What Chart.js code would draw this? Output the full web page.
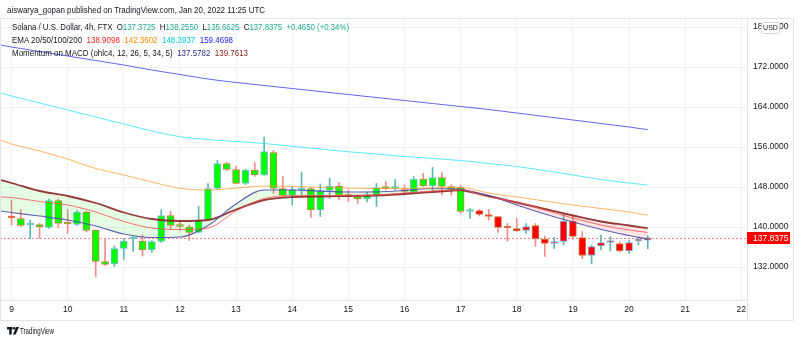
<!DOCTYPE html>
<html><head><meta charset="utf-8">
<script src="https://cdn.jsdelivr.net/npm/chart.js@4.4.0/dist/chart.umd.min.js"></script>
<style>
html,body{margin:0;padding:0;background:#fff;width:800px;height:343px;overflow:hidden;}
#wrap{position:relative;width:800px;height:343px;}
canvas{position:absolute;left:0;top:0;}
.t{position:absolute;white-space:nowrap;font-family:'Liberation Sans',Arial,sans-serif;transform-origin:0 50%;line-height:1;color:#131722;}
.g{color:#22ab94}.e1{color:#ff1f1f}.e2{color:#ff8c00}.e3{color:#00d0e6}.e4{color:#1f1fff}.m1{color:#2e2e8c}.m2{color:#8c1c1c}
</style></head><body>
<div id="wrap">
<canvas id="c" width="800" height="343"></canvas>
<div class="t" data-w="258" style="left:7px;top:5px;font-size:9.5px;">aiswarya_gopan published on TradingView.com, Jan 20, 2022 11:25 UTC</div>
<div class="t" data-w="337" style="left:12px;top:22px;font-size:9.5px;">Solana / U.S. Dollar, 4h, FTX&nbsp; O<span class="g">137.3725</span>&nbsp; H<span class="g">138.2550</span>&nbsp; L<span class="g">135.6625</span>&nbsp; C<span class="g">137.8375</span>&nbsp; <span class="g">+0.4650 (+0.34%)</span></div>
<div class="t" data-w="221" style="left:12px;top:35.4px;font-size:9.5px;">EMA 20/50/100/200&nbsp; <span class="e1">138.9098</span>&nbsp; <span class="e2">142.3602</span>&nbsp; <span class="e3">148.3937</span>&nbsp; <span class="e4">159.4698</span></div>
<div class="t" data-w="236" style="left:12px;top:47.7px;font-size:9.5px;">Momentum on MACD (ohlc4, 12, 26, 5, 34, 5)&nbsp; <span class="m1">137.5782</span>&nbsp; <span class="m2">139.7613</span></div>
<div class="t" data-w="34" style="left:20px;top:327px;font-size:8.5px;">TradingView</div>
</div>
<script>
// ---- data ----
const days = [9,10,11,12,13,14,15,16,17,18,19,20,21,22];
const dayLabels = ['9','10','11','12','13','14','15','16','17','18','19','20','21','22'];
const priceTicks = [132,140,148,156,164,172,180];
const firstDay = 9, barHours = 4;
const opens = [141.9,141.7,140.4,140.5,139.9,145.3,140.8,140.5,143.0,139.4,133.1,132.6,135.7,137.6,137.2,135.4,137.1,142.3,140.3,140.0,138.9,141.4,147.7,152.7,151.5,148.7,151.4,150.4,154.9,147.7,146.3,147.4,147.7,143.4,147.3,148.2,146.3,146.1,145.6,146.4,147.9,147.7,147.5,146.9,149.6,148.2,149.9,148.1,147.9,143.1,143.3,142.5,142.1,139.9,139.7,139.3,140.3,137.6,136.7,137.1,141.2,137.9,134.3,136.2,136.9,136.7,135.2,137.2,137.3725];
const highs = [145.4,143.5,141.4,140.7,145.6,145.6,143.5,143.3,143.2,139.4,137.7,136.2,137.7,138.1,138.4,137.3,143.4,143.2,141.4,140.4,144.1,148.7,153.3,152.9,152.2,151.6,152.9,158.0,155.3,150.1,148.1,150.9,147.9,148.6,149.7,148.9,147.4,146.4,147.0,148.7,149.1,149.5,148.4,150.1,150.7,151.9,150.9,148.5,148.4,143.7,143.5,143.5,142.1,140.7,141.7,140.7,140.7,138.2,137.9,142.6,142.4,139.1,136.4,138.4,138.1,137.0,137.4,138.1,138.255];
const lows = [140.4,140.1,137.7,137.7,139.7,139.9,138.7,140.3,139.0,130.1,132.3,132.1,133.5,135.1,134.2,134.9,136.9,139.5,139.3,137.3,138.8,141.3,147.6,151.3,148.6,148.5,150.1,150.3,146.7,146.1,144.4,146.4,141.9,142.1,145.7,145.4,145.1,144.7,145.0,144.1,147.4,147.4,146.4,146.7,148.1,147.3,146.4,146.4,142.7,141.7,142.2,141.4,138.9,137.2,139.1,138.7,136.1,134.1,135.7,136.4,137.5,133.7,132.7,135.4,135.2,135.0,134.7,136.4,135.6625];
const closes = [141.8,140.3,140.6,140.0,145.3,140.7,140.6,143.0,139.3,133.1,132.5,135.7,137.2,137.8,135.4,137.1,142.3,140.3,140.1,138.9,141.4,147.7,152.7,151.5,148.7,151.4,150.4,155.1,147.7,146.3,147.5,147.7,143.4,147.3,148.2,146.3,146.1,145.6,146.4,147.9,147.7,147.9,147.1,149.6,148.2,149.9,148.1,147.5,143.1,143.3,142.5,142.1,139.9,139.8,139.2,140.1,137.6,136.7,137.1,141.2,138.1,134.3,136.1,136.9,136.9,135.2,136.9,137.3,137.8375];
// bar colouring state from the indicator: 1 = bullish (green), -1 = bearish (red)
const barState = [-1,1,1,1,1,1,1,1,1,1,1,1,1,1,1,1,1,1,1,1,1,1,1,1,1,1,1,1,1,1,1,1,1,1,1,1,1,1,1,1,1,1,1,1,1,1,1,1,1,1,-1,-1,-1,-1,-1,-1,-1,-1,-1,-1,-1,-1,-1,-1,-1,-1,-1,-1,-1];
const lastPrice = 137.8375;
const lineDays = [8.8,9,9.5,10,10.5,11,11.5,12,12.5,13,13.5,14,14.5,15,15.5,16,16.5,17,17.5,18,18.5,19,19.5,20,20.333];
const ema200 = [176.4,176.0,175.1,174.2,173.3,172.4,171.4,170.5,169.6,168.9,168.3,167.7,167.1,166.5,165.9,165.3,164.7,164.1,163.5,162.8,162.1,161.4,160.7,160.0,159.47];
const ema100 = [166.8,166.2,164.8,163.4,162.0,160.6,159.2,158.06,157.5,157.1,156.7,156.14,155.6,155.04,154.6,154.1,153.7,153.3,152.7,152.1,151.3,150.4,149.5,148.8,148.39];
const ema50 = [157.4,156.6,155.2,153.6,151.7,150.4,149.0,147.74,147.4,147.8,148.2,148.1,147.94,147.8,147.7,147.7,147.8,147.9,146.8,146.0,145.2,144.4,143.7,143.0,142.36];
const ema20 = [146.0,145.9,145.1,144.4,143.0,141.1,139.8,139.5,139.8,143.2,145.7,146.26,146.3,146.34,146.4,146.8,147.2,147.4,146.0,145.0,143.4,141.8,140.4,139.4,138.91];
const momA = [149.4,148.8,147.2,146.2,144.8,142.9,141.6,141.2,141.4,143.5,145.4,146.0,146.1,146.2,146.3,146.6,147.0,147.4,146.2,144.9,143.6,142.3,141.1,140.3,139.76];
const momB = [143.2,142.9,142.2,141.4,140.2,138.6,137.9,138.0,140.3,144.6,147.4,147.4,147.16,147.0,147.04,147.3,147.7,147.6,146.3,144.4,142.6,141.0,139.5,138.3,137.58];
const switchDay = 17;

// ---- build ----
const xs = opens.map((_, i) => firstDay + i * barHours / 24);
const isUp = i => closes[i] >= opens[i];
const pts = arr => lineDays.map((d, i) => ({x: d, y: arr[i]}));
const ptsRange = (arr, lo, hi) => lineDays.map((d, i) => ({x: d, y: arr[i]})).filter(p => p.x >= lo && p.x <= hi);
const lineDs = (data, color, w, extra) => Object.assign({type:'line', data, borderColor:color, borderWidth:w, pointRadius:0, cubicInterpolationMode:'monotone', fill:false, order:0}, extra||{});

const datasets = [
  {type:'bar', data: xs.map((x,i)=>({x, y:[lows[i], highs[i]]})), backgroundColor: xs.map((_,i)=> isUp(i) ? '#5cb8ad' : '#f28b8b'), barThickness:1, grouped:false, order:2, minBarLength:1},
  {type:'bar', data: xs.map((x,i)=>({x, y:[opens[i], closes[i]]})), backgroundColor: xs.map((_,i)=> barState[i] > 0 ? '#00ff00' : '#ff0000'), borderColor: xs.map((_,i)=> isUp(i) ? '#7fb9e6' : '#c9803f'), borderWidth:1, borderSkipped:false, barThickness:7, grouped:false, order:1, minBarLength:2},
  lineDs(pts(ema200), 'rgba(50,50,240,0.75)', 1),
  lineDs(pts(ema100), 'rgba(0,225,245,0.65)', 1),
  lineDs(pts(ema50), 'rgba(255,150,30,0.7)', 1),
  lineDs(pts(ema20), 'rgba(245,80,80,0.8)', 1),
  lineDs(ptsRange(momB, 0, switchDay), 'rgba(80,80,170,0.9)', 1.2),      // 6
  lineDs(ptsRange(momA, 0, switchDay), 'rgba(140,35,35,0.9)', 1.8, {fill:{target:6}, backgroundColor:'rgba(0,230,0,0.1)'}),
  lineDs(ptsRange(momB, switchDay, 99), 'rgba(80,80,170,0.9)', 1.2),     // 8
  lineDs(ptsRange(momA, switchDay, 99), 'rgba(140,35,35,0.9)', 1.8, {fill:{target:8}, backgroundColor:'rgba(255,0,0,0.1)'})
];

const decor = {
  id:'decor',
  beforeDatasetsDraw(chart){
    const {ctx, chartArea:a, scales:{y}} = chart;
    const py = Math.round(y.getPixelForValue(lastPrice)) + 0.5;
    ctx.save();
    ctx.strokeStyle = 'rgba(255,0,0,0.5)'; ctx.lineWidth = 1; ctx.setLineDash([2,2]);
    ctx.beginPath(); ctx.moveTo(a.left, py); ctx.lineTo(a.right, py); ctx.stroke();
    ctx.restore();
  },
  afterDraw(chart){
    const {ctx, chartArea:a, scales:{y}} = chart;
    ctx.save();
    // frame
    ctx.strokeStyle = '#e0e3eb'; ctx.lineWidth = 1;
    ctx.beginPath();
    ctx.moveTo(0, 18.5); ctx.lineTo(793.5, 18.5);
    ctx.moveTo(793.5, 18.5); ctx.lineTo(793.5, 320.5);
    ctx.moveTo(0, 320.5); ctx.lineTo(793.5, 320.5);
    ctx.moveTo(0.5, 18.5); ctx.lineTo(0.5, 320.5);
    ctx.moveTo(a.right + 0.5, 18.5); ctx.lineTo(a.right + 0.5, 320.5);
    ctx.stroke();
    // last price label
    const py = y.getPixelForValue(lastPrice);
    ctx.fillStyle = '#ff0000';
    ctx.fillRect(a.right, Math.round(py) - 6, 43, 12);
    ctx.fillStyle = '#ffffff';
    ctx.font = '8.5px "Liberation Sans", Arial, sans-serif';
    ctx.textBaseline = 'middle';
    ctx.fillText(lastPrice.toFixed(4), a.right + 6, Math.round(py) + 0.5);
    // USD box
    ctx.fillStyle = '#ffffff'; ctx.strokeStyle = '#d1d4dc';
    ctx.beginPath(); ctx.roundRect(761.5, 22.5, 18, 11, 2); ctx.fill(); ctx.stroke();
    ctx.fillStyle = '#131722'; ctx.font = '7px "Liberation Sans", Arial, sans-serif'; ctx.textAlign = 'center';
    ctx.fillText('USD', 770.5, 28.5);
    // logo mark
    ctx.fillStyle = '#131722';
    ctx.fillRect(7, 327, 5.5, 2.5);
    ctx.fillRect(9.2, 327, 2.5, 7.5);
    ctx.beginPath(); ctx.arc(14.2, 328.3, 1.3, 0, Math.PI*2); ctx.fill();
    ctx.beginPath(); ctx.moveTo(16.3, 327); ctx.lineTo(19, 327); ctx.lineTo(15.6, 334.5); ctx.lineTo(12.9, 334.5); ctx.closePath(); ctx.fill();
    ctx.restore();
  }
};

new Chart(document.getElementById('c'), {
  type:'bar',
  data:{datasets},
  options:{
    responsive:false, animation:false, devicePixelRatio:1,
    layout:{padding:{top:18, bottom:23, left:0, right:0}},
    plugins:{legend:{display:false}, tooltip:{enabled:false}},
    scales:{
      x:{type:'linear', min:8.795, max:22.101, offset:false,
        afterBuildTicks:s=>{s.ticks = days.map(v=>({value:v}));},
        afterFit:s=>{s.height = 20;},
        grid:{color:'#f0f2f6', drawTicks:false, offset:false},
        border:{color:'#e0e3eb'},
        ticks:{autoSkip:false, maxRotation:0, padding:5, color:'#131722', font:{size:8.5, family:'"Liberation Sans", Arial, sans-serif'}, callback:(v,i)=>dayLabels[i]}
      },
      y:{type:'linear', position:'right', min:125.4, max:181.8,
        afterBuildTicks:s=>{s.ticks = priceTicks.map(v=>({value:v}));},
        afterFit:s=>{s.width = 53;},
        grid:{color:'#f0f2f6', drawTicks:false},
        border:{color:'#e0e3eb'},
        ticks:{padding:6, color:'#131722', font:{size:8.5, family:'"Liberation Sans", Arial, sans-serif'}, callback:v=>Number(v).toFixed(4)}
      }
    }
  },
  plugins:[decor]
});

document.querySelectorAll('.t').forEach(el=>{
  const w = el.getBoundingClientRect().width;
  const target = parseFloat(el.dataset.w);
  if (w > 0) el.style.transform = 'scaleX(' + (target / w).toFixed(4) + ')';
});
</script>
</body></html>
